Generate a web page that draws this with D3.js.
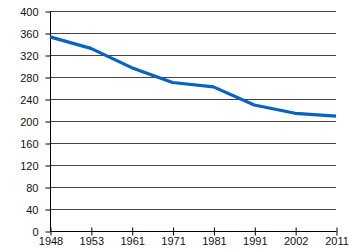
<!DOCTYPE html>
<html>
<head>
<meta charset="utf-8">
<script src="https://cdn.jsdelivr.net/npm/d3@7"></script>
<style>
  body { margin: 0; background: #fff; }
  text { font-family: "Liberation Sans", Arial, sans-serif; font-size: 11px; fill: #111; }
</style>
</head>
<body>
<svg width="350" height="250"></svg>
<script>
var years = ["1948", "1953", "1961", "1971", "1981", "1991", "2002", "2011"];
var values = [353, 332, 297, 270, 262, 229, 214, 209];
var yTicks = [0, 40, 80, 120, 160, 200, 240, 280, 320, 360, 400];

var margin = {top: 11, right: 14, bottom: 19, left: 50},
    width = 350 - margin.left - margin.right,
    height = 250 - margin.top - margin.bottom;

var svg = d3.select("svg"),
    g = svg.append("g").attr("transform", "translate(" + margin.left + "," + margin.top + ")");

var x = d3.scalePoint().domain(years).range([0, width]);
var y = d3.scaleLinear().domain([0, 400]).range([height, 0]);

// gridlines
g.selectAll("line.grid")
  .data(yTicks.slice(1))
  .enter().append("line")
  .attr("class", "grid")
  .attr("x1", 0).attr("x2", width)
  .attr("y1", function(d) { return y(d) + 0.5; })
  .attr("y2", function(d) { return y(d) + 0.5; })
  .attr("stroke", "#444").attr("stroke-width", 1);

// y axis
var yAxis = g.append("g")
  .attr("transform", "translate(0.5,0.5)")
  .call(d3.axisLeft(y).tickValues(yTicks).tickSize(5).tickPadding(7));
yAxis.select(".domain").attr("stroke", "#000").attr("d", "M0," + height + "V0");
yAxis.selectAll(".tick line").attr("stroke", "#000");

// x axis
var xAxis = g.append("g")
  .attr("transform", "translate(0.5," + (height + 0.5) + ")")
  .call(d3.axisBottom(x).tickSize(0).tickPadding(6));
xAxis.select(".domain").attr("stroke", "#000").attr("d", "M0,0H" + width);
xAxis.selectAll(".tick").append("line")
  .attr("y1", -4).attr("y2", 4).attr("stroke", "#000");

// line
var line = d3.line()
  .x(function(d, i) { return x(years[i]); })
  .y(function(d) { return y(d); });

g.append("path")
  .datum(values)
  .attr("fill", "none")
  .attr("stroke", "#0763c2")
  .attr("stroke-width", 3.2)
  .attr("stroke-linejoin", "round")
  .attr("d", line);
</script>
</body>
</html>
